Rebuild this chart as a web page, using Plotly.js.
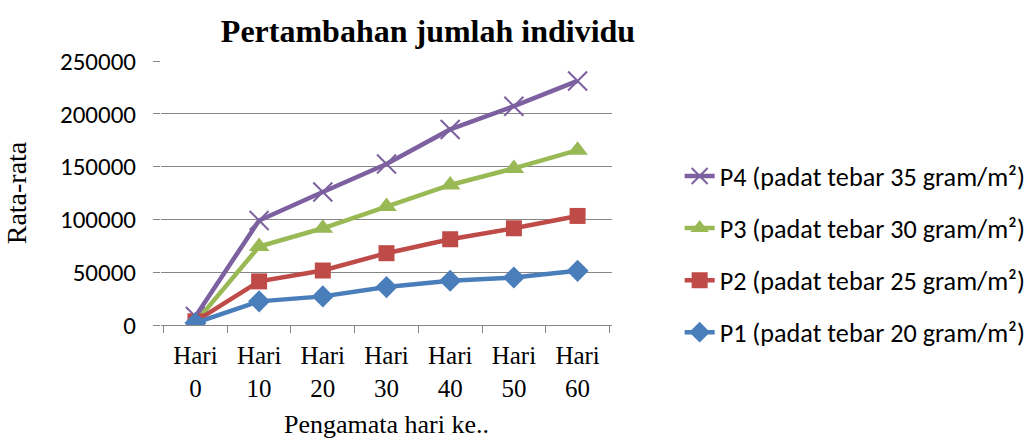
<!DOCTYPE html>
<html>
<head>
<meta charset="utf-8">
<script src="https://cdn.plot.ly/plotly-3.0.1.min.js"></script>
<style>body{margin:0;padding:0;background:#fff;} #chart{width:1033px;height:441px;}</style>
</head>
<body>
<div id="chart"></div>
<script>
const categories = ["Hari<br>0", "Hari<br>10", "Hari<br>20", "Hari<br>30", "Hari<br>40", "Hari<br>50", "Hari<br>60"];
const seriesNames = ["P1 (padat tebar 20 gram/m²)", "P2 (padat tebar 25 gram/m²)", "P3 (padat tebar 30 gram/m²)", "P4 (padat tebar 35 gram/m²)"];
const p1 = [2000, 22400, 27100, 35900, 41900, 45000, 51300];
const p2 = [3500, 41300, 51600, 68000, 81200, 91600, 103300];
const p3 = [2500, 74300, 91600, 112100, 132600, 148300, 165600];
const p4 = [8000, 99000, 126000, 152400, 185200, 207200, 231100];
const yTicks = [0, 50000, 100000, 150000, 200000, 250000];

const colors = ["#4A7EBB", "#BE4B48", "#98B954", "#7D60A0"];
const symbols = ["diamond", "square", "triangle-up", "x-thin-open"];
const sizes = [17, 16, 18, 19];
const values = [p1, p2, p3, p4];

const traces = [];
for (let i = values.length - 1; i >= 0; i--) {
  traces.push({
    type: "scatter",
    mode: "lines+markers",
    x: categories,
    y: values[i],
    name: seriesNames[i],
    legendgroup: "g" + i,
    line: {color: colors[i], width: 4.5},
    marker: {symbol: symbols[i], size: sizes[i], color: colors[i], line: {color: colors[i], width: i === 3 ? 2 : 0}}
  });
}

const layout = {
  width: 1033, height: 441,
  margin: {l: 161, r: 421, t: 61, b: 116, autoexpand: false},
  paper_bgcolor: "#fff", plot_bgcolor: "#fff",
  title: {text: "<b>Pertambahan jumlah individu</b>", x: 428/1033, xanchor: "center", y: 0.93, yanchor: "middle",
          font: {family: "Liberation Serif", size: 32, color: "#000"}},
  xaxis: {
    type: "category", tickson: "boundaries", ticks: "outside", ticklen: 7, tickcolor: "#868686",
    showline: true, linecolor: "#868686", linewidth: 1, showgrid: false, zeroline: false, ticklabelstandoff: 8,
    tickfont: {family: "Liberation Serif", size: 25, color: "#000"},
    title: {text: "Pengamata hari ke..", font: {family: "Liberation Serif", size: 26, color: "#000"}, standoff: 14}
  },
  yaxis: {
    range: [0, 250000], tickvals: yTicks, ticktext: yTicks.map(String),
    ticks: "outside", ticklen: 7, tickcolor: "#868686", ticklabelstandoff: 12,
    showgrid: true, gridcolor: "#868686", gridwidth: 1, zeroline: false, showline: false,
    tickfont: {family: "Carlito, 'Noto Sans', sans-serif", size: 25, color: "#000"},
    title: {text: "Rata-rata", font: {family: "Liberation Serif", size: 28, color: "#000"}, standoff: 25}
  },
  legend: {
    x: 1.15, xanchor: "left", y: 0.267, yanchor: "middle",
    traceorder: "grouped", tracegroupgap: 15,
    font: {family: "Carlito, 'Noto Sans', sans-serif", size: 26.2, color: "#000"}
  },
  showlegend: true
};

Plotly.newPlot("chart", traces, layout, {staticPlot: true, displayModeBar: false});
</script>
</body>
</html>
